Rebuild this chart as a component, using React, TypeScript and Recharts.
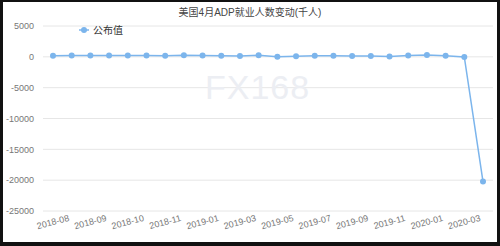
import { LineChart, Line, XAxis, YAxis, CartesianGrid } from "recharts";

// 发布月份（前几期同月有两次数据）
const months = [
  "2018-08", "2018-08", "2018-09", "2018-09", "2018-10", "2018-10",
  "2018-11", "2018-12", "2019-01", "2019-02", "2019-03", "2019-04",
  "2019-05", "2019-06", "2019-07", "2019-08", "2019-09", "2019-10",
  "2019-11", "2019-12", "2020-01", "2020-02", "2020-03", "2020-04",
];
// 公布值（千人）
const values = [
  163, 219, 230, 227, 217, 225,
  179, 271, 213, 183, 129, 275,
  27, 102, 156, 195, 135, 125,
  67, 202, 291, 183, -27, -20236,
];
const yTicks = [5000, 0, -5000, -10000, -15000, -20000, -25000];

const data = months.map((m, i) => ({ month: m, value: values[i] }));

const LINE = "#7cb5ec";
const FONT = "'Liberation Sans', Arial, 'Noto Sans CJK SC', sans-serif";

function XTick(props: any) {
  const { x, y, payload } = props;
  return (
    <text
      x={x}
      y={y + 6}
      textAnchor="middle"
      fontSize={9}
      fill="#777"
      fontFamily={FONT}
      transform={`rotate(-15, ${x}, ${y + 3})`}
    >
      {payload.value}
    </text>
  );
}

export default function App() {
  return (
    <div style={{ position: "absolute", left: 0, top: 0, width: 500, height: 246, background: "#fff", fontFamily: FONT }}>
      <LineChart width={500} height={246} data={data} margin={{ top: 26, right: 7, left: 0, bottom: 0 }}>
        <CartesianGrid vertical={false} stroke="#e6e6e6" />
        <XAxis
          dataKey="month"
          interval={1}
          padding={{ left: 10, right: 10 }}
          axisLine={false}
          tickLine={false}
          height={35}
          tick={<XTick />}
        />
        <YAxis
          domain={[-25000, 5000]}
          ticks={yTicks}
          width={43}
          axisLine={false}
          tickLine={false}
          tick={{ fontSize: 9, fill: "#777", fontFamily: FONT }}
          tickMargin={3}
        />
        <Line
          dataKey="value"
          stroke={LINE}
          strokeWidth={1.5}
          dot={{ r: 3, fill: LINE, stroke: LINE, strokeWidth: 0 }}
          isAnimationActive={false}
        />
      </LineChart>
      <div style={{ position: "absolute", left: 0, top: 4, width: 500, textAlign: "center", fontSize: 10, color: "#444" }}>
        美国4月ADP就业人数变动(千人)
      </div>
      <div style={{ position: "absolute", left: 79, top: 22, display: "flex", alignItems: "center", fontSize: 10, color: "#333" }}>
        <svg width={10} height={8} style={{ marginRight: 4 }}>
          <line x1={0} y1={4} x2={10} y2={4} stroke={LINE} strokeWidth={1.5} />
          <circle cx={5} cy={4} r={3} fill={LINE} />
        </svg>
        公布值
      </div>
      <div style={{ position: "absolute", left: 205, top: 68, fontSize: 34, color: "#eceef3", letterSpacing: 1 }}>
        FX168
      </div>
      <div
        style={{
          position: "absolute",
          left: 0,
          top: 0,
          width: 500,
          height: 246,
          boxSizing: "border-box",
          borderStyle: "solid",
          borderColor: "#111",
          borderWidth: "2px 3px 4px 3px",
          pointerEvents: "none",
        }}
      />
    </div>
  );
}
